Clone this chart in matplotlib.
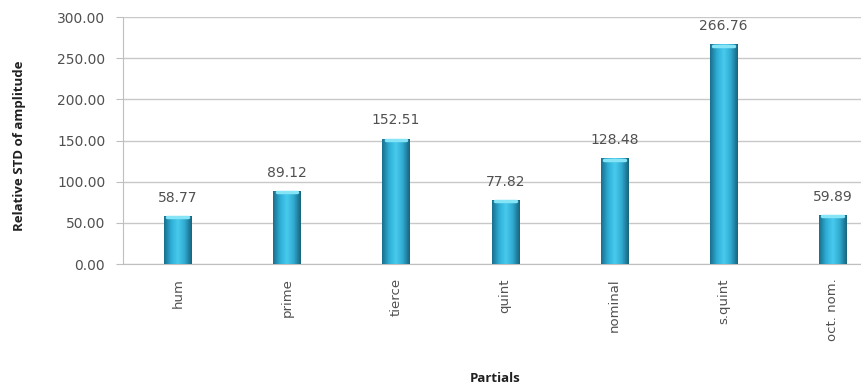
import numpy as np
import matplotlib
matplotlib.use("Agg")
import matplotlib.pyplot as plt
from matplotlib.colors import LinearSegmentedColormap

partials = ["hum", "prime", "tierce", "quint", "nominal", "s.quint", "oct. nom."]
rel_std = [58.77, 89.12, 152.51, 77.82, 128.48, 266.76, 59.89]
yticks = [0, 50, 100, 150, 200, 250, 300]

plt.rcParams['font.family'] = ['DejaVu Sans']

fig = plt.figure(figsize=(8.62, 3.89), dpi=100)
ax = fig.add_axes([0.143, 0.321, 0.857, 0.635])

x = np.arange(len(partials))
width = 0.25
bars = ax.bar(x, rel_std, width=width, color="#2fb0d4", zorder=2)

# shaded cylinder look: horizontal gradient clipped to each bar
shade = LinearSegmentedColormap.from_list(
    "cyl", ["#1a6f8c", "#2eaed6", "#48cbee", "#30aad0", "#17647e"])
grad = np.linspace(0, 1, 64).reshape(1, -1)
for b in bars:
    x0, w, h = b.get_x(), b.get_width(), b.get_height()
    im = ax.imshow(grad, cmap=shade, aspect="auto", zorder=3,
                   extent=[x0, x0 + w, 0, h], interpolation="bicubic")
    im.set_clip_path(b)
    # light cap on top of the bar
    ax.plot([x0 + w * 0.12, x0 + w * 0.88], [h - 1.5, h - 1.5],
            color="#86e4f7", lw=2.5, solid_capstyle="round", zorder=4)

for xi, v in zip(x, rel_std):
    ax.annotate(f"{v:.2f}", (xi, v), xytext=(0, 8), textcoords="offset points",
                ha="center", va="bottom", fontsize=10, color="#505050")

ax.set_xlim(-0.5, 6.27)
ax.set_ylim(0, 300)
ax.set_yticks(yticks)
ax.set_yticklabels([f"{t:.2f}" for t in yticks], fontsize=10, color="#505050")
ax.set_xticks(x)
ax.set_xticklabels(partials, rotation=90, fontsize=9.5, color="#505050")
ax.tick_params(axis="x", length=0, pad=10)
ax.tick_params(axis="y", length=5, color="#bfbfbf", pad=8)
ax.yaxis.grid(True, color="#c8c8c8", lw=1, zorder=0)
ax.set_axisbelow(True)

for side in ["top", "right"]:
    ax.spines[side].set_visible(False)
ax.spines["left"].set_color("#bfbfbf")
ax.spines["bottom"].set_color("#bfbfbf")

ax.set_ylabel("Relative STD of amplitude", fontsize=9.5, fontweight="bold",
              color="#202020", family="Open Sans")
ax.yaxis.set_label_coords(-0.132, 0.48)
ax.set_xlabel("Partials", fontsize=9.5, fontweight="bold", color="#202020",
              family="Open Sans")
ax.xaxis.set_label_coords(0.503, -0.437)

fig.savefig("out.png", dpi=100)
